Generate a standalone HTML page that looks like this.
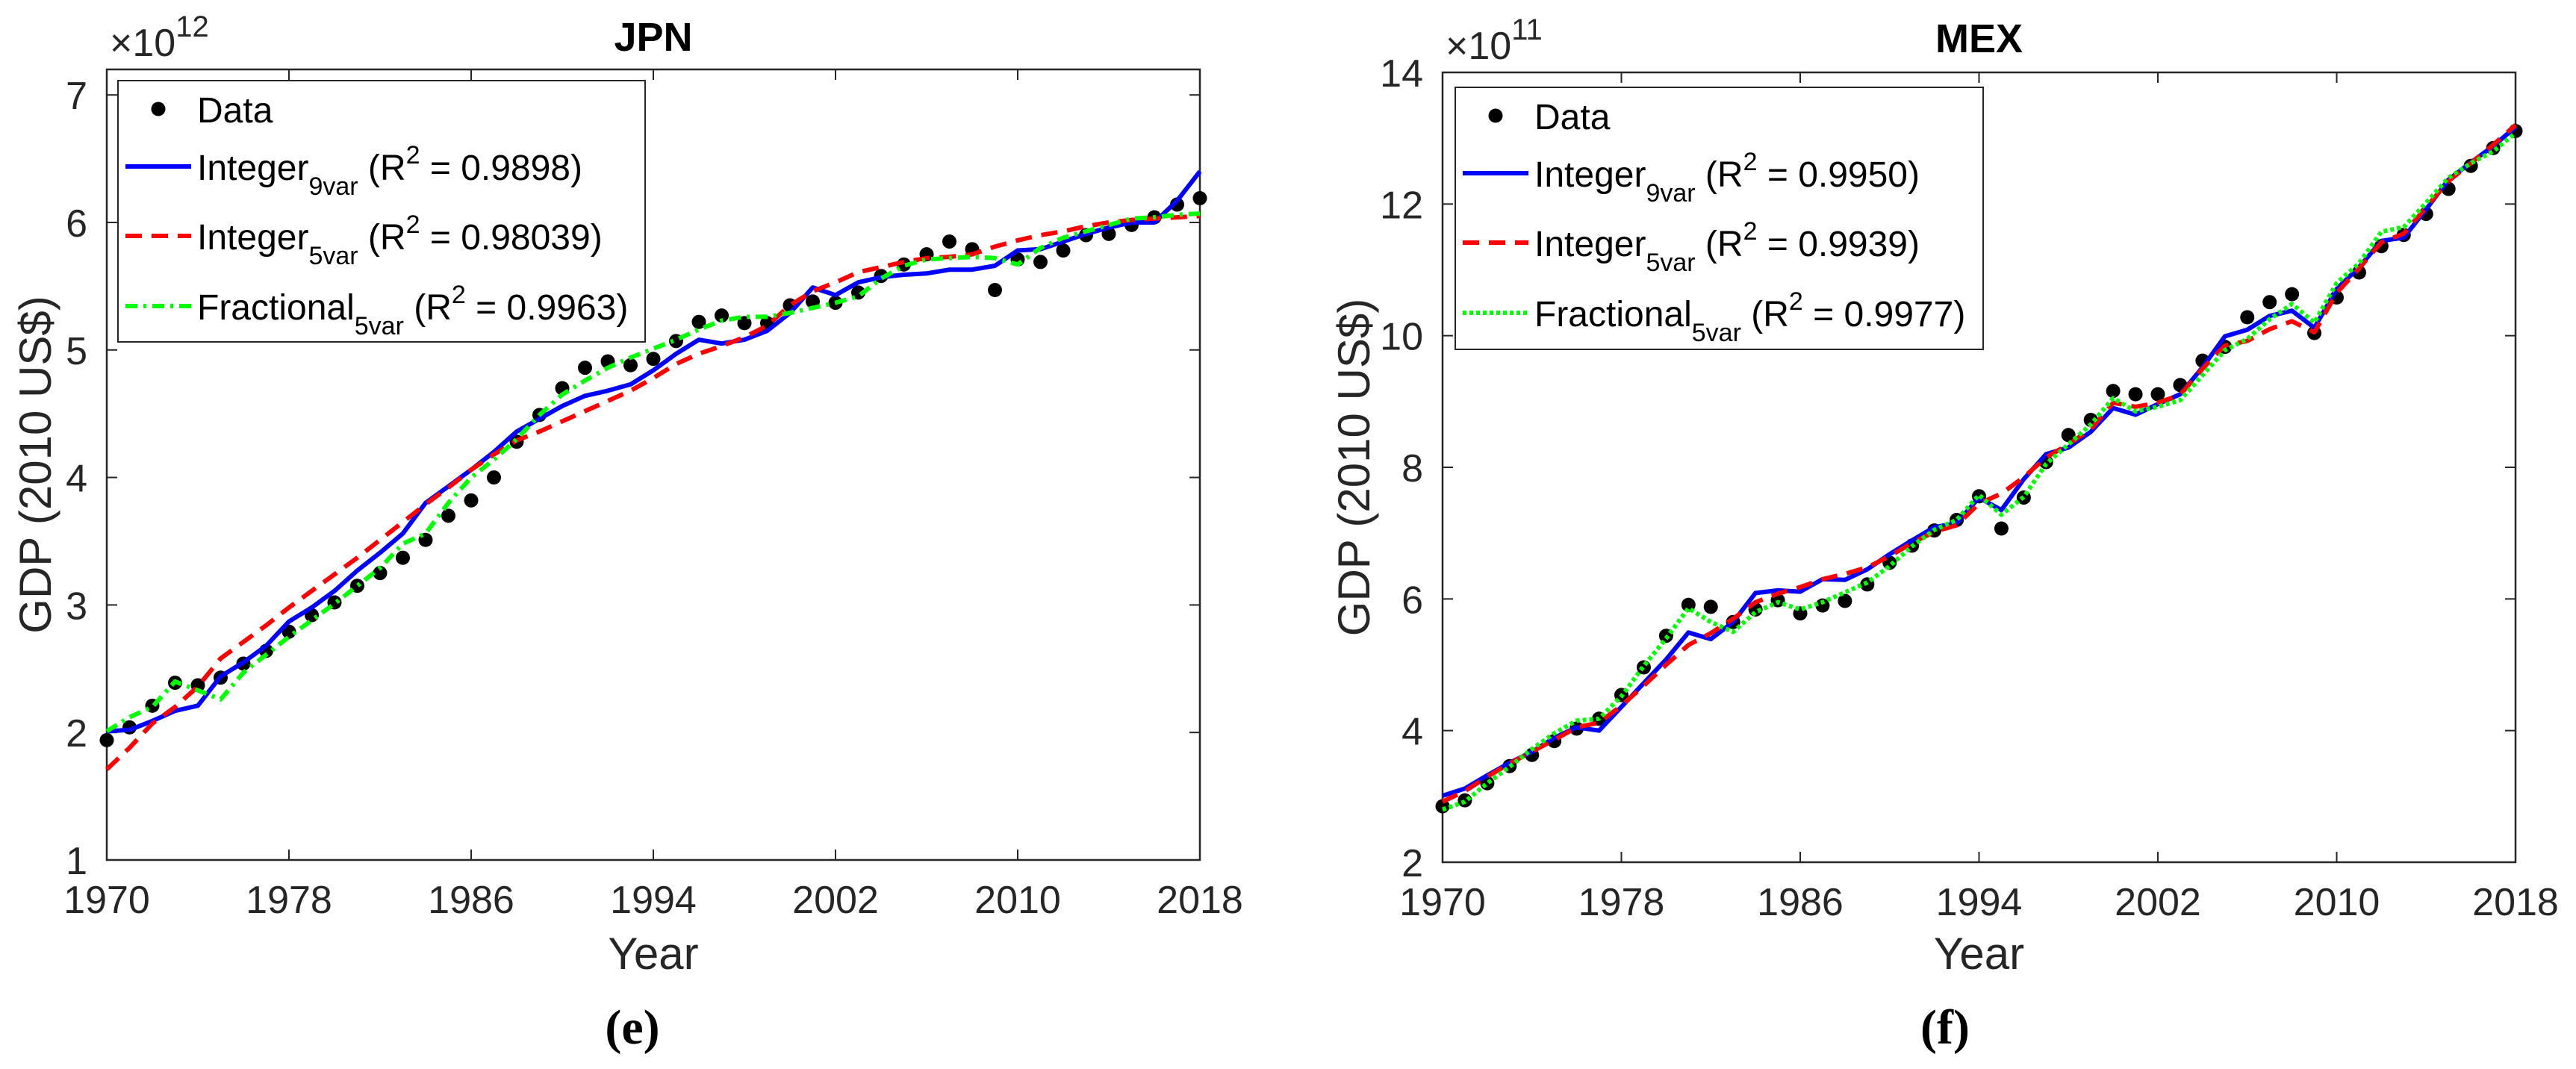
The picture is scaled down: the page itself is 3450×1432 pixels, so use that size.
<!DOCTYPE html>
<html><head><meta charset="utf-8"><style>
html,body{margin:0;padding:0;background:#fff}
svg text{font-family:"Liberation Sans",sans-serif;fill:#262626}
svg text.serif{font-family:"Liberation Serif",serif;fill:#000}
</style></head><body>
<svg id="s" width="3450" height="1427" xmlns="http://www.w3.org/2000/svg">
<rect width="3450" height="1427" fill="#fff"/>
</svg>
<script>
const years=[];for(let y=1970;y<=2018;y++)years.push(y);
const xTicks=[1970,1978,1986,1994,2002,2010,2018];
const jpnYTicks=[1,2,3,4,5,6,7];
const mexYTicks=[2,4,6,8,10,12,14];
const jpnData=[1.94,2.04,2.21,2.39,2.37,2.43,2.54,2.64,2.79,2.92,3.02,3.15,3.25,3.37,3.51,3.70,3.82,4.00,4.28,4.49,4.70,4.86,4.91,4.88,4.93,5.07,5.22,5.27,5.21,5.21,5.35,5.38,5.37,5.45,5.58,5.67,5.75,5.85,5.79,5.47,5.71,5.69,5.78,5.90,5.91,5.98,6.04,6.14,6.19];
const jpnInt9=[2.01,2.02,2.09,2.17,2.21,2.44,2.55,2.68,2.87,2.98,3.11,3.27,3.41,3.56,3.80,3.93,4.06,4.20,4.36,4.46,4.56,4.64,4.68,4.73,4.84,4.97,5.08,5.05,5.08,5.15,5.29,5.49,5.43,5.53,5.57,5.59,5.60,5.63,5.63,5.66,5.78,5.79,5.85,5.91,5.96,6.00,6.00,6.17,6.40];
const jpnInt5=[1.71,1.88,2.07,2.20,2.36,2.58,2.71,2.84,2.98,3.11,3.24,3.37,3.51,3.65,3.79,3.92,4.06,4.18,4.29,4.36,4.44,4.52,4.60,4.68,4.78,4.89,4.97,5.03,5.10,5.19,5.35,5.46,5.53,5.61,5.65,5.69,5.72,5.73,5.75,5.81,5.86,5.90,5.93,5.97,6.00,6.02,6.03,6.04,6.05];
const jpnFrac=[2.01,2.12,2.20,2.40,2.33,2.26,2.47,2.61,2.75,2.88,3.01,3.15,3.29,3.48,3.56,3.80,4.00,4.14,4.30,4.49,4.65,4.76,4.86,4.94,5.01,5.08,5.16,5.23,5.26,5.26,5.29,5.33,5.37,5.42,5.56,5.66,5.71,5.72,5.73,5.72,5.67,5.80,5.88,5.93,5.98,6.03,6.04,6.06,6.07];
const mexData=[2.85,2.94,3.20,3.46,3.63,3.84,4.03,4.18,4.54,4.96,5.44,5.91,5.88,5.65,5.84,5.98,5.78,5.90,5.97,6.22,6.55,6.81,7.04,7.20,7.56,7.07,7.54,8.08,8.49,8.72,9.16,9.11,9.11,9.25,9.62,9.83,10.28,10.51,10.63,10.04,10.58,10.96,11.36,11.53,11.85,12.23,12.58,12.85,13.11];
const mexInt9=[3.01,3.12,3.32,3.51,3.68,3.89,4.05,4.00,4.36,4.72,5.08,5.49,5.39,5.65,6.09,6.13,6.11,6.30,6.29,6.45,6.68,6.89,7.09,7.15,7.54,7.35,7.82,8.20,8.30,8.54,8.90,8.80,8.96,9.11,9.52,9.99,10.09,10.30,10.38,10.12,10.71,11.04,11.44,11.49,11.92,12.37,12.63,12.88,13.17];
const mexInt5=[2.92,3.08,3.30,3.50,3.68,3.86,4.05,4.12,4.38,4.68,5.00,5.30,5.48,5.70,5.95,6.08,6.18,6.30,6.38,6.48,6.65,6.85,7.02,7.12,7.45,7.60,7.85,8.15,8.35,8.58,8.98,8.92,8.98,9.10,9.50,9.85,9.92,10.10,10.22,10.05,10.65,11.02,11.42,11.55,11.95,12.35,12.62,12.90,13.20];
const mexFrac=[2.80,2.92,3.20,3.45,3.72,3.96,4.15,4.18,4.52,4.98,5.40,5.86,5.65,5.50,5.80,5.95,5.84,5.95,6.10,6.25,6.50,6.80,7.05,7.20,7.58,7.28,7.55,8.05,8.35,8.65,9.05,8.85,8.92,9.02,9.40,9.78,9.95,10.25,10.48,10.20,10.80,11.10,11.58,11.65,12.02,12.40,12.62,12.80,13.08];
const jpnR2=["0.9898","0.98039","0.9963"];
const mexR2=["0.9950","0.9939","0.9977"];

const NS="http://www.w3.org/2000/svg";
const svg=document.getElementById('s');
function mk(tag,attrs,parent,text){const e=document.createElementNS(NS,tag);for(const k in attrs)e.setAttribute(k,attrs[k]);if(text!==undefined)e.textContent=text;(parent||svg).appendChild(e);return e;}

function panel(cfg){
  const g=mk('g',{});
  
  
  const L=cfg.L,R=cfg.R,T=cfg.T,B=cfg.B;
  const sx=v=>L+(v-1970)/(2018-1970)*(R-L);
  const sy=v=>B-(v-cfg.ymin)/(cfg.ymax-cfg.ymin)*(B-T);
  const box=mk('rect',{x:L,y:T,width:R-L,height:B-T,fill:'none',stroke:'#262626','stroke-width':2.5},g);
  
  
  xTicks.forEach(t=>{
    const x=sx(t);
    mk('line',{x1:x,x2:x,y1:B,y2:B-14,stroke:'#262626','stroke-width':2},g);
    mk('line',{x1:x,x2:x,y1:T,y2:T+14,stroke:'#262626','stroke-width':2},g);
    const lb=mk('text',{x:x,y:B+71,'font-size':52,'text-anchor':'middle'},g,String(t));
    
    
  });
  cfg.yTicks.forEach(t=>{
    const y=sy(t);
    mk('line',{x1:L,x2:L+14,y1:y,y2:y,stroke:'#262626','stroke-width':2},g);
    mk('line',{x1:R,x2:R-14,y1:y,y2:y,stroke:'#262626','stroke-width':2},g);
    const lb=mk('text',{x:L-26,y:y+19,'font-size':52,'text-anchor':'end'},g,String(t));
    
    
  });
  const ex=mk('text',{x:L+4,y:T-18,'font-size':52},g);
  
  
  mk('tspan',{},ex,'×10');
  mk('tspan',{'font-size':40,dy:-26},ex,cfg.exp);
  const tt=mk('text',{x:(L+R)/2,y:cfg.titleY,'font-size':54,'font-weight':'bold','text-anchor':'middle',style:'fill:#000'},g,cfg.id.toUpperCase());
  
  
  const xl=mk('text',{x:(L+R)/2,y:1298,'font-size':60,'text-anchor':'middle'},g,'Year');
  
  
  const yl=mk('text',{x:0,y:0,'font-size':60,'text-anchor':'middle',transform:`translate(${cfg.ylx},${(T+B)/2}) rotate(-90)`},g,'GDP (2010 US$)');
  
  
  const cap=mk('text',{x:cfg.capX,y:1398,'font-size':66,'font-weight':'bold','text-anchor':'middle','class':'serif'},g,cfg.cap);
  
  
  cfg.data.forEach((v,i)=>{
    const c=mk('circle',{cx:sx(years[i]),cy:sy(v),r:9.5,fill:'#000'},g);
    
    
  });
  const line=(arr,style,name)=>{
    const d=arr.map((v,i)=>(i?'L':'M')+sx(years[i]).toFixed(1)+' '+sy(v).toFixed(1)).join(' ');
    const p=mk('path',Object.assign({d:d,fill:'none','stroke-linejoin':'round'},style),g);
    
    
  };
  line(cfg.int9,{stroke:'#0000ff','stroke-width':6},'integer-9var-line');
  line(cfg.int5,{stroke:'#ff0000','stroke-width':6,'stroke-dasharray':'22 13'},'integer-5var-line');
  line(cfg.frac,cfg.fracStyle,'fractional-5var-line');
  const lg=mk('g',{},g);
  
  
  mk('rect',{x:cfg.lgL,y:cfg.lgT,width:cfg.lgW,height:cfg.lgH,fill:'#fff',stroke:'#262626','stroke-width':2},lg);
  const lx0=cfg.lgL+10,lx1=cfg.lgL+98,tx=cfg.lgL+106;
  const rows=[cfg.lgT+38,cfg.lgT+115,cfg.lgT+208,cfg.lgT+302];
  mk('circle',{cx:(lx0+lx1)/2,cy:rows[0],r:9.5,fill:'#000'},lg);
  mk('text',{x:tx,y:rows[0]+18,'font-size':48,style:'fill:#000'},lg,'Data');
  const names=[['Integer','9var'],['Integer','5var'],['Fractional','5var']];
  const sty=[{stroke:'#0000ff','stroke-width':6},{stroke:'#ff0000','stroke-width':6,'stroke-dasharray':'22 13'},cfg.fracStyle];
  names.forEach((n,i)=>{
    const y=rows[i+1];
    mk('line',Object.assign({x1:lx0,x2:lx1,y1:y,y2:y},sty[i]),lg);
    const t=mk('text',{x:tx,y:y+18,'font-size':48,style:'fill:#000'},lg);
    
    
    mk('tspan',{},t,n[0]);
    mk('tspan',{'font-size':34,dy:20},t,n[1]);
    mk('tspan',{dy:-20},t,' (R');
    mk('tspan',{'font-size':34,dy:-22},t,'2');
    mk('tspan',{dy:22},t,' = '+cfg.r2[i]+')');
  });
}
panel({id:'jpn',L:143,R:1607,T:93,B:1152,ymin:1,ymax:7.2,yTicks:jpnYTicks,exp:'12',titleY:68,ylx:68,capX:847,cap:'(e)',
  data:jpnData,int9:jpnInt9,int5:jpnInt5,frac:jpnFrac,r2:jpnR2,
  fracStyle:{stroke:'#00ff00','stroke-width':6,'stroke-dasharray':'16 8 4 8'},
  lgL:158,lgT:108,lgW:706,lgH:350});
panel({id:'mex',L:1932,R:3369,T:97,B:1155,ymin:2,ymax:14,yTicks:mexYTicks,exp:'11',titleY:70,ylx:1834,capX:2605,cap:'(f)',
  data:mexData,int9:mexInt9,int5:mexInt5,frac:mexFrac,r2:mexR2,
  fracStyle:{stroke:'#00ff00','stroke-width':6,'stroke-dasharray':'5 4'},
  lgL:1949,lgT:117,lgW:707,lgH:351});
</script>
</body></html>
